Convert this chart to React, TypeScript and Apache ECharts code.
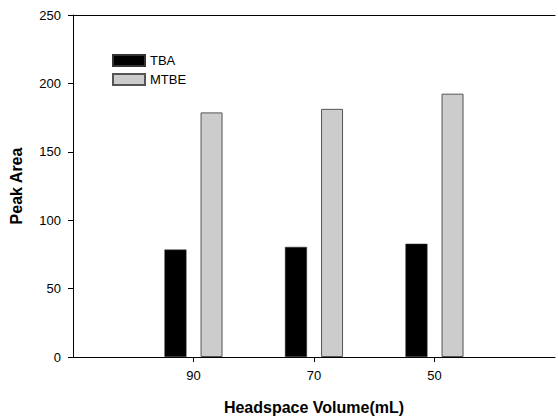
import React, { useEffect, useRef } from "react";
import * as echarts from "echarts";

const categories = ["", "90", "70", "50", ""];
const tbaValues = [null, 78.5, 80.5, 82.8, null];
const mtbeValues = [null, 178.8, 181.4, 192.5, null];
const yTicks = { min: 0, max: 250, interval: 50 };

export default function App() {
  const ref = useRef<HTMLDivElement>(null);
  useEffect(() => {
    if (!ref.current) return;
    const chart = echarts.init(ref.current, undefined, { renderer: "svg" });
    const font = "'Liberation Sans', Arial, Helvetica, sans-serif";
    chart.setOption({
      animation: false,
      backgroundColor: "#ffffff",
      textStyle: { fontFamily: font },
      grid: { left: 70, width: 492, top: 15, height: 345, containLabel: false },
      legend: {
        orient: "vertical",
        left: 112,
        top: 54,
        padding: 0,
        itemWidth: 32,
        itemHeight: 11,
        itemGap: 6,
        icon: "rect",
        textStyle: { fontFamily: font, fontSize: 13, color: "#000" },
        data: ["TBA", "MTBE"],
      },
      xAxis: [
        {
          type: "category",
          data: categories,
          boundaryGap: false,
          axisLine: { lineStyle: { color: "#000", width: 1 } },
          axisTick: {
            show: true,
            inside: false,
            length: 5,
            interval: (idx: number) => idx >= 1 && idx <= 3,
            lineStyle: { color: "#000" },
          },
          axisLabel: {
            interval: 0,
            margin: 12,
            fontSize: 13,
            color: "#000",
            fontFamily: font,
          },
          splitLine: { show: false },
          name: "Headspace Volume(mL)",
          nameLocation: "middle",
          nameGap: 42,
          nameTextStyle: { fontSize: 16, fontWeight: "bold", color: "#000", fontFamily: font },
        },
        {
          type: "category",
          data: categories,
          boundaryGap: false,
          position: "top",
          axisLine: { lineStyle: { color: "#000", width: 1 } },
          axisTick: { show: false },
          axisLabel: { show: false },
          splitLine: { show: false },
        },
      ],
      yAxis: {
        type: "value",
        min: yTicks.min,
        max: yTicks.max,
        interval: yTicks.interval,
        axisLine: { show: true, lineStyle: { color: "#000", width: 1 } },
        axisTick: { show: true, length: 5, lineStyle: { color: "#000" } },
        axisLabel: { margin: 12, fontSize: 13, color: "#000", fontFamily: font },
        splitLine: { show: false },
        name: "Peak Area",
        nameLocation: "middle",
        nameGap: 49,
        nameTextStyle: { fontSize: 16, fontWeight: "bold", color: "#000", fontFamily: font },
      },
      series: [
        {
          name: "TBA",
          type: "bar",
          data: tbaValues,
          barWidth: 22,
          barGap: "64%",
          itemStyle: { color: "#000000", borderColor: "#333", borderWidth: 0.5 },
        },
        {
          name: "MTBE",
          type: "bar",
          data: mtbeValues,
          barWidth: 22,
          itemStyle: { color: "#cccccc", borderColor: "#555555", borderWidth: 1 },
        },
      ],
    });
    return () => chart.dispose();
  }, []);
  return <div ref={ref} style={{ width: 558, height: 420, position: "absolute", left: 0, top: 0 }} />;
}
